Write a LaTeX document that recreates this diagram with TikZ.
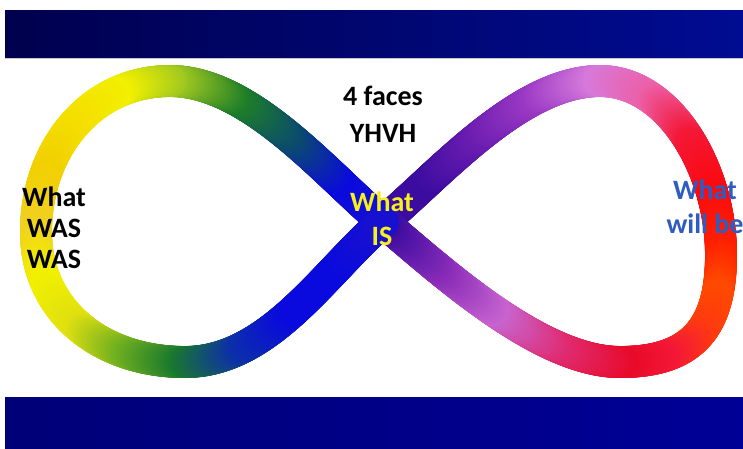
\documentclass[tikz,border=0pt]{standalone}
\usepackage{fontspec}
\setmainfont{Carlito}
\usetikzlibrary{decorations.markings}

% colours of the loop
\definecolor{indigo}{HTML}{3C0CA0}
\definecolor{royal}{HTML}{1810D0}
\definecolor{bright}{HTML}{0A0ADE}
\definecolor{grape}{HTML}{6A1CB0}
\definecolor{plum}{HTML}{9A38C4}
\definecolor{orchid}{HTML}{D67ADC}
\definecolor{rose}{HTML}{EC60A8}
\definecolor{scarlet}{HTML}{F41838}
\definecolor{redpure}{HTML}{FA0A10}
\definecolor{redorange}{HTML}{FF2000}
\definecolor{tangerine}{HTML}{FF4A00}
\definecolor{flame}{HTML}{FF3A10}
\definecolor{crimson}{HTML}{E80A28}
\definecolor{blush}{HTML}{E02A70}
\definecolor{mauve}{HTML}{C864D0}
\definecolor{violet}{HTML}{8A2CB8}
\definecolor{teal}{HTML}{0A4A70}
\definecolor{leaf}{HTML}{1E7E28}
\definecolor{lime}{HTML}{A0C820}
\definecolor{lemon}{HTML}{F2F000}
\definecolor{sun}{HTML}{F4E000}
\definecolor{gold}{HTML}{F2D000}
\definecolor{amber}{HTML}{F0D020}
\definecolor{citrus}{HTML}{E0E010}
\definecolor{moss}{HTML}{70B020}
\definecolor{pine}{HTML}{1A7A2C}
\definecolor{cobalt}{HTML}{0C30A8}
% colours of the bars and texts
\definecolor{navydark}{HTML}{00004E}
\definecolor{navylight}{HTML}{000C92}
\definecolor{barblue}{HTML}{000096}
\definecolor{isyellow}{HTML}{F5F01E}
\definecolor{willblue}{HTML}{2E5CC0}

% one disc of the band, coloured between #1 and #2 from position #3 on
\newcommand{\bandblob}[3]{%
  \pgfmathsetmacro\bandf{4*(\pgfkeysvalueof{/pgf/decoration/mark info/distance from start}/\pgfdecoratedpathlength-#3)}%
  \pgfmathtruncatemacro\bandmix{max(0,min(100,100-100*\bandf))}%
  \fill[#1!\bandmix!#2] (0,0) circle (16pt);%
}

\begin{document}
\begin{tikzpicture}[x=1pt, y=-1pt,
    band/.style n args={5}{decoration={markings,
        mark=between positions 0 and 0.25 step 1pt with {\bandblob{#1}{#2}{0}},
        mark=between positions 0.25 and 0.5 step 1pt with {\bandblob{#2}{#3}{0.25}},
        mark=between positions 0.5 and 0.75 step 1pt with {\bandblob{#3}{#4}{0.5}},
        mark=between positions 0.75 and 1 step 1pt with {\bandblob{#4}{#5}{0.75}}},
        decorate},
    lbl/.style={font=\bfseries\fontsize{28}{#1}\selectfont, align=center, inner sep=0pt, anchor=north},
    ]
    \useasboundingbox (0,0) rectangle (743,448);
    \fill[white] (0,0) rectangle (743,448);

    % Bars at top and bottom
    \shade[left color=navydark, right color=navylight] (5,10) rectangle (743,58);
    \draw[gray!45, line width=1pt] (5,58.5) -- (743,58.5);
    \shade[left color=barblue!80!black, right color=barblue] (5,397) rectangle (743,448);

    % Points of the loop
    \coordinate (c) at (383,222);
    \coordinate (t2) at (600,81);
    \coordinate (r) at (721,255);
    \coordinate (b2) at (620,362);
    \coordinate (t1) at (170,81);
    \coordinate (l) at (36,232);
    \coordinate (b1) at (185,362);

    % Right lobe
    \path[band={indigo}{indigo}{grape}{plum}{orchid}] (c) .. controls (440,174) and (520,81) .. (t2);
    \path[band={orchid}{rose}{scarlet}{redpure}{redorange}] (t2) .. controls (670,81) and (721,170) .. (r);
    \path[band={redorange}{tangerine}{flame}{scarlet}{crimson}] (r) .. controls (721,330) and (690,362) .. (b2);
    \path[band={crimson}{blush}{mauve}{violet}{indigo}] (b2) .. controls (540,362) and (440,270) .. (c);
    % Left lobe
    \path[band={royal}{bright}{teal}{leaf}{lime}] (c) .. controls (326,174) and (250,81) .. (t1);
    \path[band={lime}{lemon}{sun}{gold}{amber}] (t1) .. controls (90,81) and (36,150) .. (l);
    \path[band={amber}{lemon}{citrus}{moss}{pine}] (l) .. controls (36,310) and (100,362) .. (b1);
    \path[band={pine}{cobalt}{bright}{bright}{royal}] (b1) .. controls (270,362) and (326,270) .. (c);

    % Texts
    \node[lbl=31, text=black] (was) at (54,187) {What\\WAS\\WAS};
    \node[lbl=37, text=black] (faces) at (383,86) {4 faces\\YHVH};
    \node[lbl=34, text=isyellow] (is) at (382,192) {What\\IS};
    \node[lbl=34, text=willblue] (willbe) at (705,180) {What\\will be};
\end{tikzpicture}
\end{document}
